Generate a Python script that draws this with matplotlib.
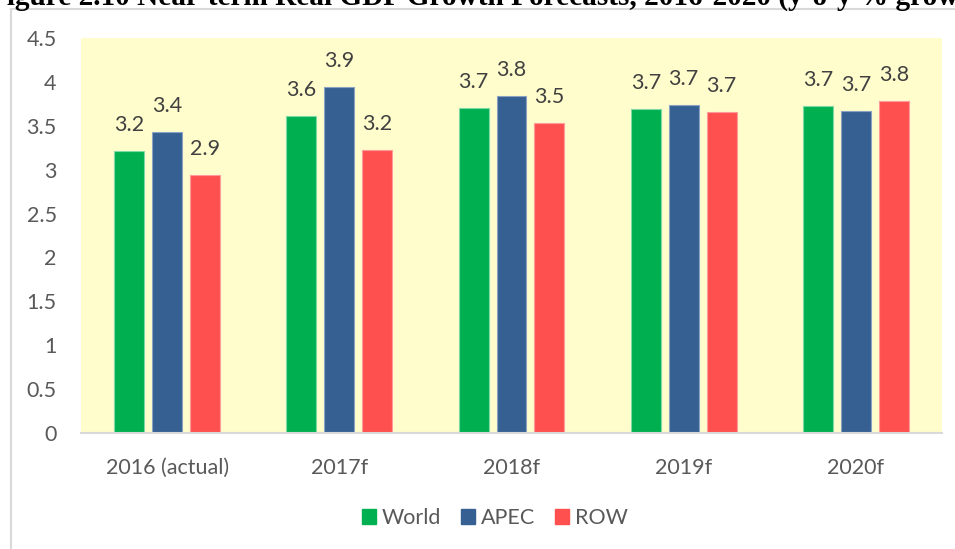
import matplotlib
matplotlib.use("Agg")
import matplotlib.pyplot as plt
import numpy as np
from matplotlib.patches import Patch

categories = ["2016 (actual)", "2017f", "2018f", "2019f", "2020f"]
world = [3.21, 3.61, 3.70, 3.69, 3.72]
apec = [3.43, 3.94, 3.84, 3.74, 3.67]
row = [2.94, 3.22, 3.53, 3.66, 3.78]
series_names = ["World", "APEC", "ROW"]
title = "Figure 2.10 Near-term Real GDP Growth Forecasts, 2016-2020 (y-o-y % growth)"

colors = ["#00B050", "#376092", "#FF5050"]
edges = ["#7FD8A7", "#8AA3C4", "#FF9A9A"]

W, H = 955, 549
fig = plt.figure(figsize=(W / 100, H / 100), dpi=100)
fig.patch.set_facecolor("white")

def px(x0, y0, x1, y1):
    return [x0 / W, 1 - y1 / H, (x1 - x0) / W, (y1 - y0) / H]

ax = fig.add_axes(px(81, 38, 942, 433))
ax.set_facecolor("#FFFDCC")

FS = 15.5
x = np.arange(len(categories))
bw = 0.174
off = 0.22
for i, (vals, c, ec) in enumerate(zip([world, apec, row], colors, edges)):
    xs = x + (i - 1) * off
    ax.bar(xs, vals, width=bw, color=c, edgecolor=ec, linewidth=0.8, zorder=3)
    for xi, v in zip(xs, vals):
        ax.annotate(f"{v:.1f}", (xi, v), xytext=(0, 14.5), textcoords="offset points",
                    ha="center", va="baseline", fontsize=FS, color="#404040",
                    family="Lato")

ax.set_xlim(-0.5, len(categories) - 0.5)
ax.set_ylim(0, 4.5)
ax.set_yticks(np.arange(0, 4.51, 0.5))
ax.set_yticklabels(["0", "0.5", "1", "1.5", "2", "2.5", "3", "3.5", "4", "4.5"])
ax.set_xticks(x)
ax.set_xticklabels(categories)
for lab in ax.get_xticklabels() + ax.get_yticklabels():
    lab.set_family("Lato")
    lab.set_fontsize(FS)
    lab.set_color("#595959")
ax.tick_params(axis="both", length=0)
ax.tick_params(axis="y", pad=17.5)
ax.tick_params(axis="x", pad=18)
for s in ["top", "right", "left"]:
    ax.spines[s].set_visible(False)
ax.spines["bottom"].set_color("#D9D9D9")
ax.spines["bottom"].set_linewidth(1.5)
ax.spines["bottom"].set_zorder(4)

# chart-area border (left and top)
fig.add_artist(plt.Line2D([11 / W, 11 / W], [0, 1 - 9 / H], color="#D9D9D9", lw=1.5))
fig.add_artist(plt.Line2D([11 / W, 1], [1 - 9 / H, 1 - 9 / H], color="#D9D9D9", lw=1.5))

handles = [Patch(facecolor=c, edgecolor=c) for c in colors]
leg = fig.legend(handles, series_names, loc="center", bbox_to_anchor=(495 / W, 1 - 518 / H),
                 ncol=3, frameon=False, prop={"family": "Lato", "size": FS},
                 handlelength=0.65, handleheight=0.65, handletextpad=0.3, columnspacing=0.9)
for t in leg.get_texts():
    t.set_color("#595959")

fig.text(-11 / W, 1 - 5 / H, title, family="Liberation Serif", weight="bold",
         fontsize=21.1, ha="left", va="baseline", color="black")

fig.savefig("out.png", dpi=100)
